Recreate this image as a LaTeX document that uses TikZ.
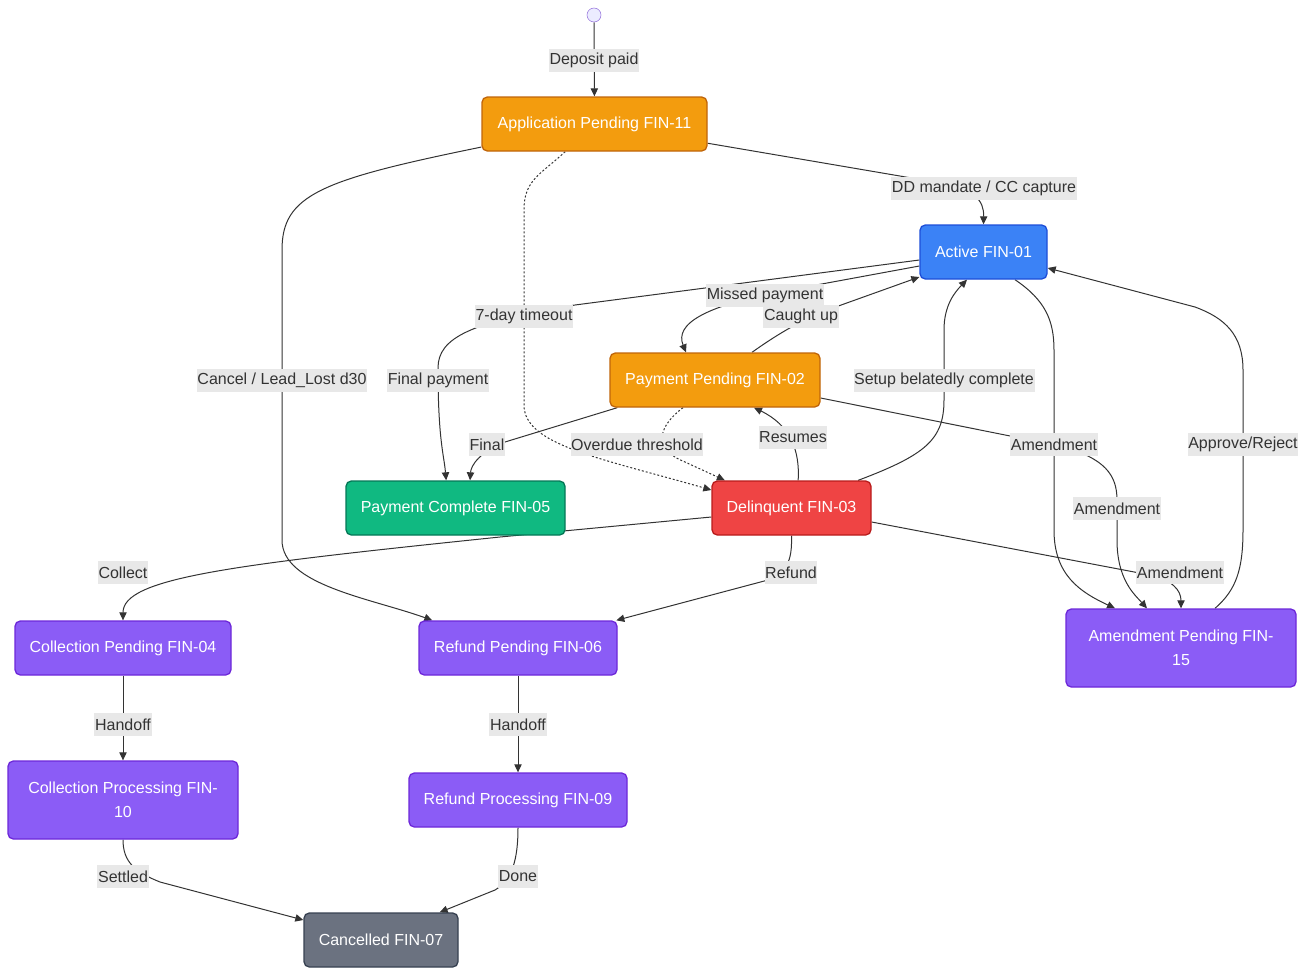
\documentclass[tikz,border=0pt]{standalone}
\usepackage{fontspec}
\setmainfont{Liberation Sans}
\usepackage{tikz}
\usetikzlibrary{arrows.meta,positioning}

\definecolor{amber}{HTML}{F39C0E}
\definecolor{amberdark}{HTML}{C0650A}
\definecolor{sky}{HTML}{3B82F6}
\definecolor{skydark}{HTML}{1D4ED8}
\definecolor{mint}{HTML}{10B981}
\definecolor{mintdark}{HTML}{047857}
\definecolor{alarm}{HTML}{EF4444}
\definecolor{alarmdark}{HTML}{B91C1C}
\definecolor{violet}{HTML}{8B5CF6}
\definecolor{violetdark}{HTML}{6D28D9}
\definecolor{slate}{HTML}{6B7280}
\definecolor{slatedark}{HTML}{374151}
\definecolor{ink}{HTML}{333333}
\definecolor{tag}{HTML}{E8E8E8}
\definecolor{initfill}{HTML}{ECECFF}
\definecolor{initline}{HTML}{9370DB}

\pgfdeclarelayer{edges}
\pgfsetlayers{edges,main}

\begin{document}
\begin{tikzpicture}[
  x=0.75pt, y=-0.75pt,
  state/.style={rectangle, draw, rounded corners=4pt, line width=1pt,
                minimum height=40.5pt, align=center, text=white,
                font=\fontsize{12pt}{18pt}\selectfont},
  pending/.style={state, fill=amber, draw=amberdark},
  running/.style={state, fill=sky, draw=skydark},
  complete/.style={state, fill=mint, draw=mintdark},
  overdue/.style={state, fill=alarm, draw=alarmdark},
  handling/.style={state, fill=violet, draw=violetdark},
  closed/.style={state, fill=slate, draw=slatedark},
  initial/.style={circle, draw=initline, fill=initfill, minimum size=10.5pt,
                  inner sep=0pt},
  edge/.style={-{Triangle[length=6pt,width=5.5pt]}, draw=ink, line width=0.75pt},
  lag/.style={edge, dash pattern=on 1.5pt off 1.5pt},
  lbl/.style={fill=tag, text=ink, inner xsep=0.5pt, inner ysep=0pt, yshift=-1pt,
              minimum height=17pt, font=\fontsize{12pt}{18pt}\selectfont},
]
  \useasboundingbox (0,0) rectangle (1307,975);

  % Top: start and application
  \node[initial] (init) at (594,15) {};
  \node[pending, minimum width=168.75pt] (app) at (594.5,124) {Application Pending FIN-11};
  \node[running, minimum width=95.25pt] (active) at (983.5,252) {Active FIN-01};

  % Middle: payment states
  \node[pending, minimum width=157.5pt] (pp) at (715,380) {Payment Pending FIN-02};
  \node[complete, minimum width=164.25pt] (done) at (455.5,508) {Payment Complete FIN-05};
  \node[overdue, minimum width=119.25pt] (delinq) at (791.5,508) {Delinquent FIN-03};
  \node[handling, minimum width=172.5pt, minimum height=58.5pt] (amend) at (1181,648) {Amendment Pending FIN-\\15};

  % Bottom: collection / refund / cancel
  \node[handling, minimum width=162pt] (collpend) at (123,648) {Collection Pending FIN-04};
  \node[handling, minimum width=148.5pt] (refpend) at (518,648) {Refund Pending FIN-06};
  \node[handling, minimum width=172.5pt, minimum height=58.5pt] (collproc) at (123,800) {Collection Processing FIN-\\10};
  \node[handling, minimum width=163.5pt] (refproc) at (518,800) {Refund Processing FIN-09};
  \node[closed, minimum width=115.5pt] (cancel) at (381,940) {Cancelled FIN-07};

  % Transitions (behind the states and labels)
  \begin{pgfonlayer}{edges}
  \draw[edge] (init) -- (app);
  \draw[edge] (app) -- (935,182) .. controls (975,189) and (984,200) .. (active.north);
  \draw[edge] (app) .. controls (320,180) and (282,195) .. (282,250) -- (282,540)
    .. controls (282,585) and (370,598) .. ([xshift=10.5pt]refpend.north west);
  \draw[lag] ([xshift=-22pt]app.south) .. controls (540,175) and (524,180) .. (524,210) -- (524,405)
    .. controls (524,445) and (600,458) .. ([yshift=13.5pt]delinq.west);
  \draw[edge] ([yshift=-6pt]active.west) -- (575,305) .. controls (470,322) and (438,338) .. (438,368)
    .. controls (438,440) and (444,455) .. ([xshift=-7pt]done.north);
  \draw[edge] ([yshift=-10.5pt]active.west) -- (800,288) .. controls (700,305) and (675,325) .. ([xshift=-21.75pt]pp.north);
  \draw[edge] ([xshift=27.75pt]pp.north) .. controls (772,338) and (800,320) .. (830,309) -- ([yshift=-18.75pt]active.west);
  \draw[edge] ([xshift=6pt]pp.south west) -- (505,442) .. controls (480,452) and (471,465) .. ([xshift=10.9pt]done.north);
  \draw[lag] ([xshift=-24pt]pp.south) .. controls (660,425) and (650,448) .. (685,462) -- ([xshift=-50pt]delinq.north);
  \draw[edge] ([xshift=5pt]delinq.north) .. controls (800,450) and (790,425) .. ([xshift=29.25pt]pp.south);
  \draw[edge] ([xshift=50pt]delinq.north) .. controls (925,455) and (944,440) .. (944,400) -- (944,330)
    .. controls (944,305) and (955,292) .. ([xshift=-12.4pt]active.south);
  \draw[edge] ([xshift=23.6pt]active.south) .. controls (1045,300) and (1054,320) .. (1054,350) -- (1054,530)
    .. controls (1054,575) and (1080,592) .. ([xshift=-49.5pt]amend.north);
  \draw[edge] ([yshift=-13.5pt]pp.east) -- (1060,446) .. controls (1105,458) and (1117,475) .. (1117,500) -- (1117,540)
    .. controls (1117,580) and (1135,595) .. ([xshift=-25.5pt]amend.north);
  \draw[edge] ([yshift=-10.5pt]delinq.east) -- (1150,575) .. controls (1172,580) and (1181,590) .. (amend.north);
  \draw[edge] ([xshift=25.5pt]amend.north) .. controls (1236,590) and (1243,570) .. (1243,530) -- (1243,370)
    .. controls (1243,335) and (1225,318) .. (1195,307) -- ([yshift=-12pt]active.east);
  \draw[edge] ([yshift=-6.75pt]delinq.west) -- (500,537) .. controls (230,565) and (123,578) .. (collpend.north);
  \draw[edge] (delinq.south) .. controls (792,555) and (790,572) .. (768,580) -- ([xshift=-1pt]refpend.north east);
  \draw[edge] (collpend) -- (collproc);
  \draw[edge] (refpend) -- (refproc);
  \draw[edge] (collproc.south) .. controls (123,862) and (135,872) .. (160,882) -- ([yshift=15pt]cancel.west);
  \draw[edge] (refproc.south) .. controls (518,860) and (512,880) .. (495,890) -- ([xshift=44pt]cancel.north);
  \end{pgfonlayer}

  % Transition labels
  \node[lbl] (l-deposit) at (594,59) {Deposit paid};
  \node[lbl] (l-mandate) at (984,187) {DD mandate / CC capture};
  \node[lbl] (l-cancel) at (282,379) {Cancel / Lead\_Lost d30};
  \node[lbl] (l-timeout) at (524,315) {7-day timeout};
  \node[lbl] (l-finalpay) at (438,379) {Final payment};
  \node[lbl] (l-missed) at (765,294) {Missed payment};
  \node[lbl] (l-caught) at (801,315) {Caught up};
  \node[lbl] (l-final) at (487,443) {Final};
  \node[lbl] (l-overdue) at (637,443) {Overdue threshold};
  \node[lbl] (l-resumes) at (793,436) {Resumes};
  \node[lbl] (l-setup) at (944,379) {Setup belatedly complete};
  \node[lbl] (l-amend1) at (1054,443) {Amendment};
  \node[lbl] (l-amend2) at (1117,507) {Amendment};
  \node[lbl] (l-amend3) at (1180,571) {Amendment};
  \node[lbl] (l-approve) at (1243,443) {Approve/Reject};
  \node[lbl] (l-collect) at (123,571) {Collect};
  \node[lbl] (l-refund) at (791,571) {Refund};
  \node[lbl] (l-handoff1) at (123,723) {Handoff};
  \node[lbl] (l-handoff2) at (518,723) {Handoff};
  \node[lbl] (l-settled) at (123,875) {Settled};
  \node[lbl] (l-done) at (518,875) {Done};
\end{tikzpicture}
\end{document}
